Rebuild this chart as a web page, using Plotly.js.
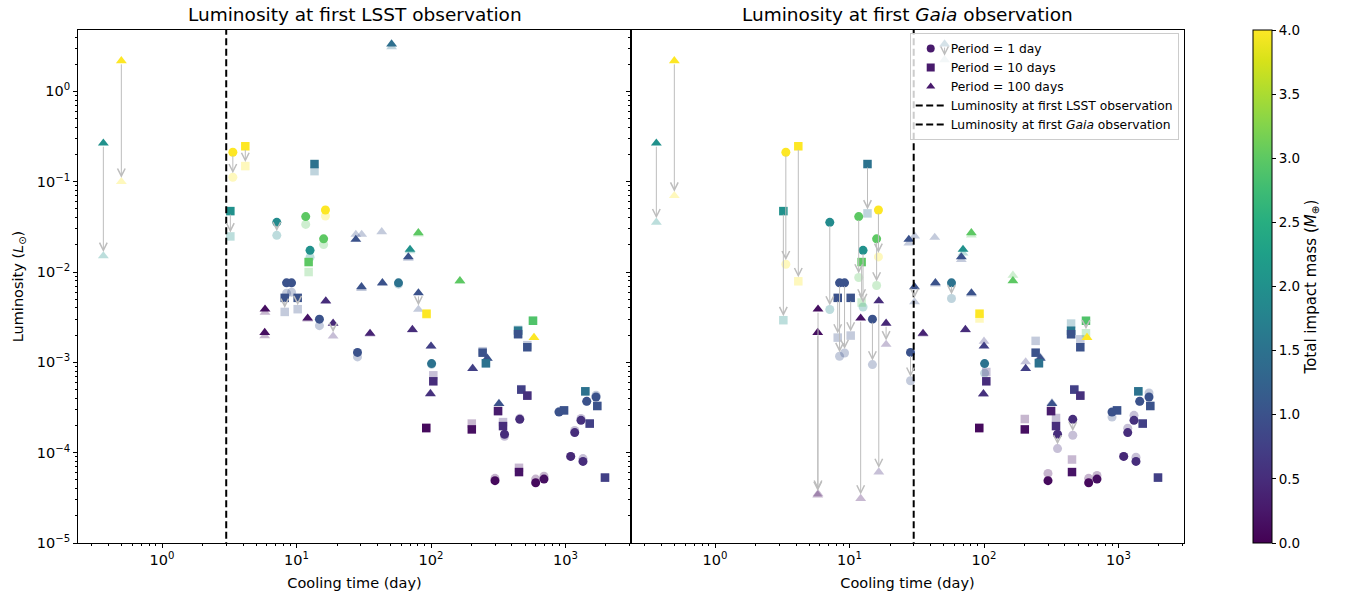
<!DOCTYPE html>
<html><head><meta charset="utf-8">
<script src="https://cdn.plot.ly/plotly-3.0.1.min.js"></script>
<style>body{margin:0;background:#fff}#chart{width:1357px;height:597px}</style>
</head><body><div id="chart"></div>
<script>
// Cooling time (day)
const coolingTime = [0.366, 0.498, 3.36, 4.16, 13.6, 3.22, 7.13, 11.7, 16.4, 15.9, 12.6, 12.3, 50.9, 27.6, 30.5, 43.0, 69.8, 67.8, 80.5,
  8.43, 9.18, 8.17, 10.2, 5.83, 5.80, 16.5, 12.1, 14.8, 18.7, 30.4, 28.4, 43.5, 57.3, 164, 80.6, 92.6, 35.2, 72.7, 100, 101, 104, 99, 92.1,
  201, 204, 242, 262, 256, 320, 315, 469, 520, 457, 343, 352, 451, 299, 600, 692, 1404, 1438, 1686, 1723, 895, 975, 1304, 1514, 1171,
  1093, 1349, 1966, 520, 444, 444, 573, 583];
// Luminosity before decay (opaque markers), L_sun
const lumPeak = [0.267, 2.18, 0.212, 0.247, 0.157, 0.0473, 0.0355, 0.0411, 0.0486, 0.0233, 0.0174, 0.0129, 3.34, 0.0230, null, null, 0.0178, 0.0147, 0.0272,
  0.0076, 0.0076, 0.00518, 0.00518, 0.00388, 0.00214, 0.00479, 0.00308, 0.00301, 0.00271, 0.00686, 0.00129, 0.0076, 0.0076, 0.0080, 0.00588, 0.00346, 0.00209, 0.00231, 0.00151, 0.00097, 0.000617, 0.000449, 0.000187,
  0.000181, 0.000854, 0.00128, 0.00111, 0.000977, 0.000349, 0.000289, 0.000499, 0.000428, 0.000234, 0.000197, 0.00016, 6.1e-5, 4.9e-5, 4.65e-5, 5.1e-5, 0.000478, 0.00037, 0.000413, 0.000329, 0.000282, 0.000294, 0.000228, 0.00021, 0.000167,
  9.1e-5, 8.0e-5, 5.3e-5, 0.00147, 0.00224, 0.00205, 0.00289, 0.00188];
// Luminosity at first LSST observation (faded markers, left)
const lumLSST = [0.0151, 0.100, 0.112, 0.149, 0.131, 0.0248, 0.0255, 0.0337, 0.0417, 0.0202, 0.0146, 0.0100, 3.11, 0.0261, 0.0261, 0.0279, 0.0172, 0.0142, 0.0263,
  0.00583, 0.00599, 0.00362, 0.00388, 0.00357, 0.00196, 0.00470, 0.00301, 0.00255, 0.00195, 0.00655, 0.00115, 0.00745, 0.00735, 0.0079, 0.00385, 0.00338, 0.00205, 0.00227, 0.00151, 0.00095, 0.000719, 0.000455, 0.000191,
  0.00021, 0.00086, 0.00133, 0.00111, 0.000977, 0.000352, 0.000289, 0.000505, 0.000432, 0.00024, 0.000218, 0.000152, 6.8e-5, 5.2e-5, 5.1e-5, 5.5e-5, 0.000478, 0.00037, 0.000432, 0.000329, 0.000285, 0.000294, 0.000239, 0.00021, 0.000176,
  9.1e-5, 8.6e-5, 5.3e-5, 0.00155, 0.00229, 0.00207, 0.00289, 0.00188];
// Luminosity at first Gaia observation (faded markers, right)
const lumGaia = [0.0355, 0.070, 0.0122, 0.0079, 0.0446, 0.00293, 0.00385, 0.0087, 0.0147, 0.0071, 0.0041, 0.0046, 2.24, 0.0209, 0.0250, 0.0242, 0.0162, 0.0137, 0.0257,
  0.00117, 0.00127, 0.00188, 0.00198, 3.5e-5, 3.4e-5, 6.1e-5, 3.1e-5, 0.000945, 0.00158, 0.00467, 0.000625, 0.00735, 0.0051, 0.0092, 0.00569, 0.00306, 0.00205, 0.00227, 0.00171, 0.00076, 0.000782, 0.000443, 0.000191,
  0.000236, 0.00101, 0.00173, 0.00114, 0.0010, 0.000358, 0.000289, 0.000505, 0.000432, 0.000156, 0.000242, 0.000111, 8.4e-5, 5.9e-5, 5.2e-5, 5.6e-5, 0.000478, 0.00037, 0.000458, 0.000329, 0.000248, 0.000294, 0.000259, 0.00021, 0.000187,
  9.1e-5, 8.9e-5, 5.3e-5, 0.0018, 0.00269, 0.00205, 0.0021, 0.00188];
// Total impact mass (M_earth)
const impactMass = [2.0, 4.0, 4.0, 4.0, 1.5, 2.0, 1.9, 3.0, 4.0, 3.0, 2.0, 3.0, 1.45, 1.0, 1.0, 1.0, 2.0, 1.0, 3.0,
  1.0, 1.0, 1.0, 1.0, 0.15, 0.15, 0.5, 0.2, 1.0, 0.45, 1.0, 1.0, 1.0, 1.5, 3.0, 1.0, 4.0, 0.4, 0.5, 0.75, 1.5, 0.5, 0.55, 0.1,
  0.15, 0.75, 1.0, 1.0, 1.5, 1.0, 0.3, 0.75, 0.55, 0.5, 0.5, 0.5, 0.2, 0.1, 0.1, 0.15, 1.5, 1.0, 1.0, 1.0, 1.0, 1.0, 0.55, 0.75, 0.5,
  0.45, 0.5, 0.75, 1.0, 1.6, 1.0, 2.9, 4.0];
// Orbital period (day)
const period = [100, 100, 1, 10, 10, 10, 1, 1, 1, 1, 1, 10, 100, 100, 100, 100, 100, 100, 100,
  1, 1, 10, 10, 100, 100, 100, 100, 1, 100, 100, 1, 100, 1, 100, 100, 10, 100, 100, 100, 1, 10, 100, 10,
  10, 100, 10, 100, 10, 100, 10, 10, 10, 1, 10, 1, 10, 1, 1, 1, 10, 1, 1, 10, 1, 10, 1, 10, 1,
  1, 1, 10, 10, 10, 10, 10, 100];
const periodNames = {1: 'Period = 1 day', 10: 'Period = 10 days', 100: 'Period = 100 days'};
const lsstDelay = 3;   // day
const gaiaDelay = 30;  // day
const xTickVals = [1, 10, 100, 1000];
const yTickVals = [1e-5, 1e-4, 1e-3, 1e-2, 1e-1, 1];
const massTicks = [0, 0.5, 1, 1.5, 2, 2.5, 3, 3.5, 4];

const FONT = 'DejaVu Sans, Verdana, sans-serif';
const symbolFor = {1: 'circle', 10: 'square', 100: 'triangle-up'};
const sizeFor = {1: 9, 10: 8.5, 100: 9.5};
const sup = v => '10<sup>' + String(Math.round(Math.log10(v))).replace('-', '\u2212') + '</sup>';
function minorVals(lo, hi) { const out = []; for (let k = lo; k <= hi; k++) for (let d = 2; d <= 9; d++) out.push(d * Math.pow(10, k)); return out; }

function markerTrace(yv, xa, ya, faded, withScale) {
  return {
    type: 'scatter', mode: 'markers', x: coolingTime, y: yv, xaxis: xa, yaxis: ya,
    showlegend: false, hoverinfo: 'skip',
    marker: {
      color: impactMass, colorscale: 'Viridis', cmin: 0, cmax: 4,
      symbol: period.map(p => symbolFor[p]), size: period.map(p => sizeFor[p]),
      opacity: faded ? 0.3 : 1, line: {width: 0},
      showscale: !!withScale,
      colorbar: withScale ? {
        x: 1.0624, xanchor: 'left', y: 0.5, yanchor: 'middle', len: 1, lenmode: 'fraction',
        thickness: 19, thicknessmode: 'pixels', xpad: 0, ypad: 0,
        outlinewidth: 1, outlinecolor: 'black',
        ticks: 'outside', ticklen: 4, tickcolor: 'black', tickmode: 'array', tickvals: massTicks,
        ticktext: massTicks.map(v => v.toFixed(1)), tickfont: {size: 13.5, family: FONT, color: 'black'},
        title: {text: 'Total impact mass (<i>M</i><sub>\u2295</sub>)', side: 'right', font: {size: 15, family: FONT, color: 'black'}}
      } : undefined
    }
  };
}

const traces = [
  markerTrace(lumLSST, 'x', 'y', true, false),
  markerTrace(lumPeak, 'x', 'y', false, true),
  markerTrace(lumGaia, 'x2', 'y2', true, false),
  markerTrace(lumPeak, 'x2', 'y2', false, false)
];
[1, 10, 100].forEach(p => traces.push({
  type: 'scatter', mode: 'markers', x: [null], y: [null], xaxis: 'x2', yaxis: 'y2',
  name: periodNames[p], marker: {symbol: symbolFor[p], size: 8, color: '#481a6c'}
}));
traces.push({type: 'scatter', mode: 'lines', x: [lsstDelay, lsstDelay], y: [1e-6, 100], xaxis: 'x', yaxis: 'y',
  name: 'Luminosity at first LSST observation', hoverinfo: 'skip', line: {color: 'black', width: 2, dash: '7px,3.5px'}});
traces.push({type: 'scatter', mode: 'lines', x: [gaiaDelay, gaiaDelay], y: [1e-6, 100], xaxis: 'x2', yaxis: 'y2',
  name: 'Luminosity at first <i>Gaia</i> observation', hoverinfo: 'skip', line: {color: 'black', width: 2, dash: '7px,3.5px'}});

const annotations = [];
function addArrows(faded, xa, ya) {
  for (let i = 0; i < coolingTime.length; i++) {
    if (lumPeak[i] == null || faded[i] == null) continue;
    if (faded[i] >= lumPeak[i] / 1.12) continue;
    const lx = Math.log10(coolingTime[i]);
    annotations.push({xref: xa, yref: ya, axref: xa, ayref: ya, x: lx, y: Math.log10(faded[i]), ax: lx, ay: Math.log10(lumPeak[i]),
      text: '', showarrow: true, arrowhead: 5, arrowsize: 1.5, arrowwidth: 1, arrowcolor: '#bdbdbd', standoff: 4, startstandoff: 2});
  }
}
addArrows(lumLSST, 'x', 'y');
addArrows(lumGaia, 'x2', 'y2');
annotations.push({xref: 'paper', yref: 'paper', x: 0.25, xanchor: 'center', y: 1, yanchor: 'bottom', yshift: 3, showarrow: false,
  text: 'Luminosity at first LSST observation', font: {size: 18.5, family: FONT, color: 'black'}});
annotations.push({xref: 'paper', yref: 'paper', x: 0.75, xanchor: 'center', y: 1, yanchor: 'bottom', yshift: 3, showarrow: false,
  text: 'Luminosity at first <i>Gaia</i> observation', font: {size: 18.5, family: FONT, color: 'black'}});

function xAxis(dom, anchor) {
  return {domain: dom, anchor: anchor, type: 'log', range: [-0.625, 3.487], tickmode: 'array', tickvals: xTickVals,
    ticktext: xTickVals.map(sup), ticks: 'outside', ticklen: 4, tickcolor: 'black', showline: true, linecolor: 'black', linewidth: 1,
    mirror: true, showgrid: false, zeroline: false, tickfont: {size: 14.5, family: FONT, color: 'black'},
    minor: {tickmode: 'array', tickvals: minorVals(-1, 3), ticks: 'outside', ticklen: 2, tickcolor: 'black', showgrid: false},
    title: {text: 'Cooling time (day)', font: {size: 14.5, family: FONT, color: 'black'}, standoff: 10}};
}
function yAxis(anchor, labels) {
  return {domain: [0, 1], anchor: anchor, type: 'log', range: [-5, 0.68], tickmode: 'array', tickvals: yTickVals,
    ticktext: yTickVals.map(sup), showticklabels: labels, ticks: 'outside', ticklen: 4, tickcolor: 'black', showline: true,
    linecolor: 'black', linewidth: 1, mirror: true, showgrid: false, zeroline: false,
    tickfont: {size: 14.5, family: FONT, color: 'black'},
    minor: {tickmode: 'array', tickvals: minorVals(-5, 0), ticks: 'outside', ticklen: 2, tickcolor: 'black', showgrid: false},
    title: labels ? {text: 'Luminosity (<i>L</i><sub>\u2299</sub>)', font: {size: 14.5, family: FONT, color: 'black'}, standoff: 9} : {text: ''}};
}

const layout = {
  width: 1357, height: 597, paper_bgcolor: 'white', plot_bgcolor: 'white',
  margin: {l: 78, r: 173, t: 30, b: 54},
  font: {family: FONT, color: 'black'},
  xaxis: xAxis([0, 0.5], 'y'), yaxis: yAxis('x', true),
  xaxis2: xAxis([0.5, 1], 'y2'), yaxis2: yAxis('x2', false),
  showlegend: true,
  legend: {x: 0.752, y: 0.994, xanchor: 'left', yanchor: 'top', bgcolor: 'rgba(255,255,255,0.8)', bordercolor: '#cccccc',
    borderwidth: 1, font: {size: 12.3, family: FONT, color: 'black'}, tracegroupgap: 0},
  annotations: annotations
};
Plotly.newPlot('chart', traces, layout, {staticPlot: true, displayModeBar: false});
</script></body></html>
